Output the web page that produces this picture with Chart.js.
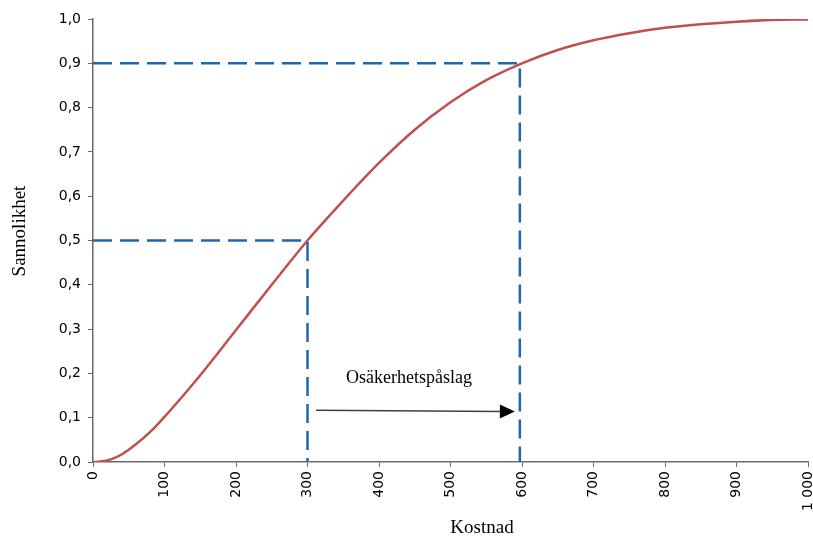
<!DOCTYPE html>
<html>
<head>
<meta charset="utf-8">
<script src="https://cdn.jsdelivr.net/npm/chart.js@4"></script>
<style>
  html, body { margin: 0; padding: 0; background: #fff; }
  #wrap { width: 813px; height: 539px; }
</style>
</head>
<body>
<div id="wrap"><canvas id="chart" width="813" height="539"></canvas></div>
<script>
// Cumulative probability curve
const kostnad = [0, 10, 25, 40, 60, 80, 100, 150, 200, 250, 300, 350, 400, 450, 500, 550, 600, 650, 700, 750, 800, 850, 900, 950, 1000];
const sannolikhet = [0, 0.001, 0.006, 0.017, 0.040, 0.068, 0.102, 0.196, 0.298, 0.400, 0.500, 0.590, 0.675, 0.750, 0.812, 0.862, 0.900, 0.930, 0.952, 0.968, 0.980, 0.988, 0.994, 0.998, 0.999];

// Dashed guide lines (median and 90 % level)
const guide50X = [0, 300, 300];
const guide50Y = [0.5, 0.5, 0];
const guide90X = [0, 597, 597];
const guide90Y = [0.9, 0.9, 0];

// Arrow + label
const arrowX = [312, 590];
const arrowY = [0.117, 0.114];
const labelText = 'Osäkerhetspåslag';
const labelPos = [442, 0.19];

const xTitle = 'Kostnad';
const yTitle = 'Sannolikhet';

const toPts = (xs, ys) => xs.map((x, i) => ({ x: x, y: ys[i] }));

const overlay = {
    id: 'overlay',
    afterDatasetsDraw(chart) {
        const ctx = chart.ctx;
        const xs = chart.scales.x, ys = chart.scales.y;
        const x0 = xs.getPixelForValue(arrowX[0]), y0 = ys.getPixelForValue(arrowY[0]);
        const x1 = xs.getPixelForValue(arrowX[1]), y1 = ys.getPixelForValue(arrowY[1]);
        ctx.save();
        // arrow shaft
        ctx.strokeStyle = '#404040';
        ctx.lineWidth = 1.5;
        ctx.beginPath();
        ctx.moveTo(x0, y0);
        ctx.lineTo(x1 - 12, y1);
        ctx.stroke();
        // arrow head
        ctx.fillStyle = '#000';
        ctx.beginPath();
        ctx.moveTo(x1, y1);
        ctx.lineTo(x1 - 15, y1 - 7);
        ctx.lineTo(x1 - 15, y1 + 7);
        ctx.closePath();
        ctx.fill();
        // label
        ctx.font = '18px "Liberation Serif", serif';
        ctx.fillStyle = '#000';
        ctx.textAlign = 'center';
        ctx.textBaseline = 'middle';
        ctx.fillText(labelText, xs.getPixelForValue(labelPos[0]), ys.getPixelForValue(labelPos[1]));
        // axis titles
        ctx.font = '19px "Liberation Serif", serif';
        ctx.fillText(xTitle, 482, 528);
        ctx.translate(20, 231);
        ctx.rotate(-Math.PI / 2);
        ctx.fillText(yTitle, 0, 0);
        ctx.restore();
    }
};

const guideStyle = {
    borderColor: '#1f67ab',
    borderWidth: 2.5,
    borderDash: [19, 8],
    pointRadius: 0,
    fill: false,
    tension: 0
};

new Chart(document.getElementById('chart').getContext('2d'), {
    type: 'scatter',
    data: {
        datasets: [
            Object.assign({ label: '50', data: toPts(guide50X, guide50Y), showLine: true }, guideStyle),
            Object.assign({ label: '90', data: toPts(guide90X, guide90Y), showLine: true }, guideStyle),
            {
                label: yTitle,
                data: toPts(kostnad, sannolikhet),
                showLine: true,
                borderColor: '#c0504d',
                borderWidth: 2.5,
                pointRadius: 0,
                cubicInterpolationMode: 'monotone',
                fill: false
            }
        ]
    },
    options: {
        responsive: false,
        animation: false,
        layout: { padding: { left: 0, right: 5, top: 19, bottom: 0 } },
        plugins: { legend: { display: false }, tooltip: { enabled: false } },
        scales: {
            x: {
                type: 'linear',
                min: 0,
                max: 1000,
                afterFit: s => { s.height = 77; s.paddingRight = 0; s.paddingLeft = 0; },
                border: { color: '#6b6b6b', width: 1.5 },
                grid: { drawOnChartArea: false, drawTicks: true, tickLength: 5, color: '#6b6b6b' },
                ticks: {
                    stepSize: 100,
                    minRotation: 90,
                    maxRotation: 90,
                    color: '#000',
                    padding: 4,
                    font: { family: '"DejaVu Sans", Verdana, sans-serif', size: 14 },
                    callback: v => v >= 1000 ? '1 000' : String(v)
                }
            },
            y: {
                min: 0,
                max: 1,
                afterFit: s => { s.width = 93; s.paddingTop = 0; s.paddingBottom = 0; },
                border: { color: '#6b6b6b', width: 1.5 },
                grid: { drawOnChartArea: false, drawTicks: true, tickLength: 5, color: '#6b6b6b' },
                ticks: {
                    stepSize: 0.1,
                    color: '#000',
                    padding: 7,
                    font: { family: '"DejaVu Sans", Verdana, sans-serif', size: 14 },
                    callback: v => v.toFixed(1).replace('.', ',')
                }
            }
        }
    },
    plugins: [overlay]
});
</script>
</body>
</html>
